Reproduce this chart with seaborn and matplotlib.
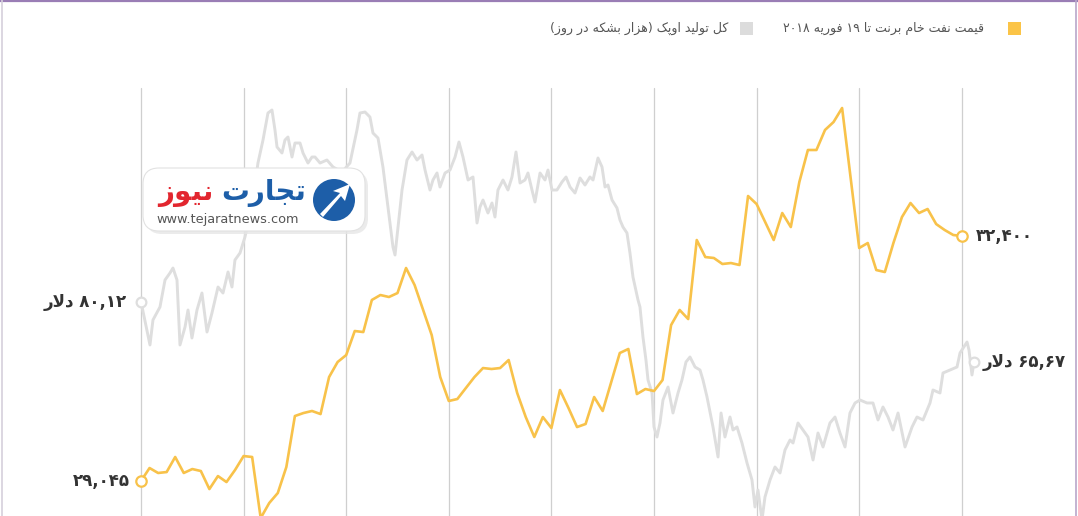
import re
import numpy as np
import matplotlib
matplotlib.use("Agg")
import matplotlib.pyplot as plt
import seaborn as sns
from matplotlib.lines import Line2D
from matplotlib.patches import FancyBboxPatch, Circle, Rectangle, Polygon

# gold line: monthly values, Feb 2010 .. Feb 2018 (thousand barrels / day)
opec_output = [
    29045, 29223, 29155, 29168, 29374, 29155, 29209, 29182, 28935, 29113,
    29031, 29196, 29387, 29374, 28538, 28744, 28881, 29237, 29935, 29976,
    30004, 29962, 30469, 30675, 30770, 31099, 31085, 31524, 31592, 31565,
    31619, 31962, 31729, 31387, 31044, 30469, 30141, 30168, 30319, 30469,
    30592, 30579, 30592, 30702, 30250, 29921, 29648, 29921, 29771, 30291,
    30045, 29784, 29826, 30195, 30004, 30401, 30798, 30853, 30236, 30305,
    30277, 30428, 31181, 31387, 31263, 32345, 32112, 32099, 32017, 32030,
    32003, 32948, 32838, 32592, 32345, 32715, 32523, 33140, 33578, 33578,
    33852, 33961, 34153, 33194, 32236, 32304, 31934, 31907, 32304, 32660,
    32852, 32715, 32770, 32564, 32482, 32414, 32400,
]
opec_month = np.arange(len(opec_output))

# gray line: brent price (usd), x in months from Feb 2010
brent_month = [
    0.0, 1.05, 1.40, 2.22, 2.81, 3.39, 3.74, 4.21, 4.56, 5.15,
    5.50, 5.96, 6.55, 7.13, 7.72, 8.30, 9.01, 9.59, 10.18, 10.64,
    10.99, 11.58, 12.16, 12.75, 13.33, 13.68, 14.27, 14.85, 15.32, 15.67,
    15.91, 16.49, 16.84, 17.19, 17.66, 18.01, 18.60, 18.95, 19.53, 20.00,
    20.35, 20.94, 21.75, 22.46, 23.51, 24.44, 25.26, 25.61, 26.20, 26.78,
    27.13, 27.72, 28.30, 28.89, 29.47, 29.71, 29.94, 30.53, 31.11, 31.70,
    32.28, 32.87, 33.22, 33.80, 34.15, 34.62, 34.97, 35.56, 36.14, 36.73,
    37.19, 37.66, 38.25, 38.83, 39.30, 39.65, 40.00, 40.58, 41.05, 41.40,
    41.75, 42.34, 42.92, 43.39, 43.86, 44.33, 44.91, 45.26, 45.73, 46.08,
    46.67, 47.25, 47.60, 48.07, 48.65, 49.24, 49.71, 50.18, 50.76, 51.35,
    51.93, 52.51, 52.87, 53.45, 53.92, 54.27, 54.62, 55.09, 55.67, 56.02,
    56.37, 56.84, 57.19, 57.54, 58.13, 58.36, 58.71, 59.06, 59.30, 59.77,
    60.00, 60.35, 60.70, 61.05, 61.64, 62.22, 62.81, 63.27, 63.74, 64.21,
    64.80, 65.38, 65.73, 66.20, 66.90, 67.49, 67.84, 68.30, 68.89, 69.24,
    69.71, 70.29, 70.88, 71.46, 71.81, 72.16, 72.63, 72.98, 73.57, 74.15,
    74.74, 75.32, 75.91, 76.26, 76.84, 77.43, 78.01, 78.60, 79.18, 79.77,
    80.58, 81.17, 81.75, 82.34, 82.92, 83.51, 84.09, 84.91, 85.61, 86.20,
    86.78, 87.37, 87.95, 88.54, 89.36, 90.18, 90.76, 91.46, 92.28, 92.63,
    93.45, 93.80, 94.62, 95.44, 95.79, 96.61, 96.84, 97.19, 97.43,
]
brent_price = [
    80.12, 69.75, 75.74, 78.85, 85.32, 87.00, 88.19, 85.32, 69.75, 74.06,
    78.13, 71.42, 78.13, 82.20, 72.86, 77.41, 83.64, 82.20, 87.24, 83.64,
    90.11, 91.79, 95.62, 100.89, 108.08, 113.35, 118.86, 125.33, 126.05, 121.26,
    117.19, 115.75, 118.86, 119.58, 114.79, 118.14, 118.14, 115.75, 113.35, 114.79,
    114.79, 113.35, 114.07, 112.39, 111.20, 113.35, 121.26, 125.33, 125.57, 124.37,
    120.54, 119.34, 112.39, 102.81, 93.23, 91.31, 95.62, 106.88, 114.07, 115.99,
    114.07, 115.27, 111.67, 106.88, 109.28, 110.96, 107.60, 110.96, 111.67, 114.79,
    118.38, 114.79, 109.28, 110.00, 98.98, 102.81, 104.49, 101.37, 103.77, 100.41,
    106.88, 109.28, 106.88, 110.00, 115.99, 108.56, 109.28, 110.96, 106.88, 104.01,
    110.96, 109.28, 111.67, 106.88, 106.88, 108.80, 110.00, 107.60, 106.16, 109.76,
    108.08, 110.00, 109.28, 114.55, 112.39, 107.60, 108.08, 104.49, 102.57, 99.70,
    98.02, 96.58, 91.79, 86.04, 80.53, 78.85, 71.66, 66.15, 61.36, 58.25,
    50.10, 47.70, 51.06, 56.57, 59.68, 53.45, 58.25, 61.36, 65.67, 66.87,
    64.47, 63.76, 61.36, 57.29, 50.10, 42.91, 53.45, 47.70, 52.49, 49.38,
    50.10, 46.26, 41.47, 37.40, 30.93, 35.00, 27.82, 33.33, 37.40, 40.51,
    39.08, 44.59, 46.98, 46.26, 51.06, 49.38, 47.70, 42.19, 48.66, 45.31,
    51.06, 52.49, 48.66, 45.31, 53.45, 55.85, 56.57, 55.85, 55.85, 51.78,
    54.89, 52.49, 49.38, 53.45, 45.31, 50.10, 52.49, 51.78, 55.85, 58.96,
    58.25, 63.04, 63.76, 64.47, 67.83, 70.46, 68.55, 62.56, 65.67,
]

year_marks = [0, 12, 24, 36, 48, 60, 72, 84, 96]

legend_gold = "قیمت نفت خام برنت تا ۱۹ فوریه ۲۰۱۸"
legend_gray = "کل تولید اوپک (هزار بشکه در روز)"
label_gold_start = "۲۹,۰۴۵"
label_gold_end = "۳۲,۴۰۰"
label_gray_start = "۸۰,۱۲ دلار"
label_gray_end = "۶۵,۶۷ دلار"

GOLD = "#f8c24a"
GRAY = "#dedede"
INK = "#333333"

# matplotlib has no arabic shaping, so do a tiny one by hand
FORMS = {
    "ا": ("\ufe8d", "\ufe8e"),
    "ب": ("\ufe8f", "\ufe90", "\ufe91", "\ufe92"),
    "پ": ("\ufb56", "\ufb57", "\ufb58", "\ufb59"),
    "ت": ("\ufe95", "\ufe96", "\ufe97", "\ufe98"),
    "ج": ("\ufe9d", "\ufe9e", "\ufe9f", "\ufea0"),
    "خ": ("\ufea5", "\ufea6", "\ufea7", "\ufea8"),
    "د": ("\ufea9", "\ufeaa"),
    "ر": ("\ufead", "\ufeae"),
    "ز": ("\ufeaf", "\ufeb0"),
    "ش": ("\ufeb5", "\ufeb6", "\ufeb7", "\ufeb8"),
    "ف": ("\ufed1", "\ufed2", "\ufed3", "\ufed4"),
    "ق": ("\ufed5", "\ufed6", "\ufed7", "\ufed8"),
    "ک": ("\ufb8e", "\ufb8f", "\ufb90", "\ufb91"),
    "ل": ("\ufedd", "\ufede", "\ufedf", "\ufee0"),
    "م": ("\ufee1", "\ufee2", "\ufee3", "\ufee4"),
    "ن": ("\ufee5", "\ufee6", "\ufee7", "\ufee8"),
    "ه": ("\ufee9", "\ufeea", "\ufeeb", "\ufeec"),
    "و": ("\ufeed", "\ufeee"),
    "ی": ("\ufbfc", "\ufbfd", "\ufbfe", "\ufbff"),
}
LAM_ALEF = ("\ufefb", "\ufefc")


def fa(text):
    out = []
    i = 0
    n = len(text)
    while i < n:
        c = text[i]
        if c not in FORMS:
            out.append(c)
            i += 1
            continue
        prev = text[i - 1] if i > 0 else ""
        joins_prev = prev in FORMS and len(FORMS[prev]) == 4
        if c == "ل" and i + 1 < n and text[i + 1] == "ا":
            out.append(LAM_ALEF[1] if joins_prev else LAM_ALEF[0])
            i += 2
            continue
        nxt = text[i + 1] if i + 1 < n else ""
        joins_next = len(FORMS[c]) == 4 and nxt in FORMS
        f = FORMS[c]
        if joins_prev and joins_next:
            out.append(f[3])
        elif joins_prev:
            out.append(f[1])
        elif joins_next:
            out.append(f[2])
        else:
            out.append(f[0])
        i += 1
    s = "".join(out)
    runs = re.findall(r"[0-9۰-۹][0-9۰-۹,.]*|[A-Za-z]+|.", s)
    mirror = {"(": ")", ")": "("}
    return "".join(mirror.get(r, r) for r in reversed(runs))


sns.set_theme(style="white")
plt.rcParams["font.family"] = ["DejaVu Sans"]

fig = plt.figure(figsize=(10.78, 5.16), dpi=100)
ax = fig.add_axes([0, 0, 1, 1])
ax2 = ax.twinx()

# x: pixel 141 = month 0, 8.55 px per month
ax.set_xlim(-16.49, 109.59)
ax.set_ylim(28.77, 152.41)
ax2.set_ylim(28566, 35632)

for m in year_marks:
    ax.axvline(m, ymin=0, ymax=0.829, color="#cfcfcf", lw=0.9, zorder=0)

sns.lineplot(x=brent_month, y=brent_price, ax=ax, color=GRAY, lw=2.1,
             estimator=None, sort=False, zorder=2)
sns.lineplot(x=opec_month, y=opec_output, ax=ax2, color=GOLD, lw=1.9,
             estimator=None, sort=False, zorder=3)

ax.plot([brent_month[0], brent_month[-1]], [brent_price[0], brent_price[-1]],
        ls="none", marker="o", ms=7, mfc="white", mec=GRAY, mew=1.6, zorder=4)
ax2.plot([opec_month[0], opec_month[-1]], [opec_output[0], opec_output[-1]],
         ls="none", marker="o", ms=7.5, mfc="white", mec=GOLD, mew=1.6, zorder=4)

lab = dict(fontsize=12, fontweight="bold", color=INK, va="center",
           textcoords="offset points")
ax.annotate(fa(label_gray_start), xy=(brent_month[0], brent_price[0]),
            xytext=(-10, 0), ha="right", **lab)
ax.annotate(fa(label_gray_end), xy=(brent_month[-1], brent_price[-1]),
            xytext=(6, 0), ha="left", **lab)
ax2.annotate(fa(label_gold_start), xy=(opec_month[0], opec_output[0]),
             xytext=(-8, 0), ha="right", **lab)
ax2.annotate(fa(label_gold_end), xy=(opec_month[-1], opec_output[-1]),
             xytext=(10, 0), ha="left", **lab)

for a in (ax, ax2):
    a.set_axis_off()

# overlay in pixel units for legend, frame and logo
deco = fig.add_axes([0, 0, 1, 1], zorder=5)
deco.set_xlim(0, 1078)
deco.set_ylim(516, 0)
deco.set_axis_off()
deco.patch.set_alpha(0)

deco.add_patch(Rectangle((1008, 22), 13, 13, color="#fbc447", lw=0))
deco.text(984, 28.5, fa(legend_gold), ha="right", va="center", fontsize=9, color="#555555")
deco.add_patch(Rectangle((740, 22), 13, 13, color="#dcdcdc", lw=0))
deco.text(728, 28.5, fa(legend_gray), ha="right", va="center", fontsize=9, color="#555555")

deco.add_artist(Line2D([0, 1078], [1, 1], color="#9a7db5", lw=1.6))
deco.add_artist(Line2D([2, 2], [0, 516], color="#d6d0dc", lw=1.2))
deco.add_artist(Line2D([1075.5, 1075.5], [0, 516], color="#b9a7c9", lw=1.2))

# watermark logo
deco.add_patch(FancyBboxPatch((146, 171), 222, 63, boxstyle="round,pad=0,rounding_size=16",
                              fc="#e6e6e6", ec="none", alpha=0.8))
deco.add_patch(FancyBboxPatch((143, 168), 222, 63, boxstyle="round,pad=0,rounding_size=16",
                              fc="white", ec="#e2e2e2", lw=0.8))
deco.add_patch(Circle((334, 200), 21, fc="#1d5ea8", ec="none"))
deco.add_patch(Polygon([[320, 214], [340, 193], [333, 191], [350, 184], [345, 201],
                        [341, 196], [323, 217]], closed=True, fc="white", ec="none"))
deco.text(306, 193, fa("تجارت"), ha="right", va="center", fontsize=20,
          fontweight="bold", color="#1d5ea8")
deco.text(213, 193, fa("نیوز"), ha="right", va="center", fontsize=20,
          fontweight="bold", color="#e2262f")
deco.text(228, 219, "www.tejaratnews.com", ha="center", va="center", fontsize=9.3,
          color="#555555")

fig.savefig("out.png", dpi=100, facecolor="white")
